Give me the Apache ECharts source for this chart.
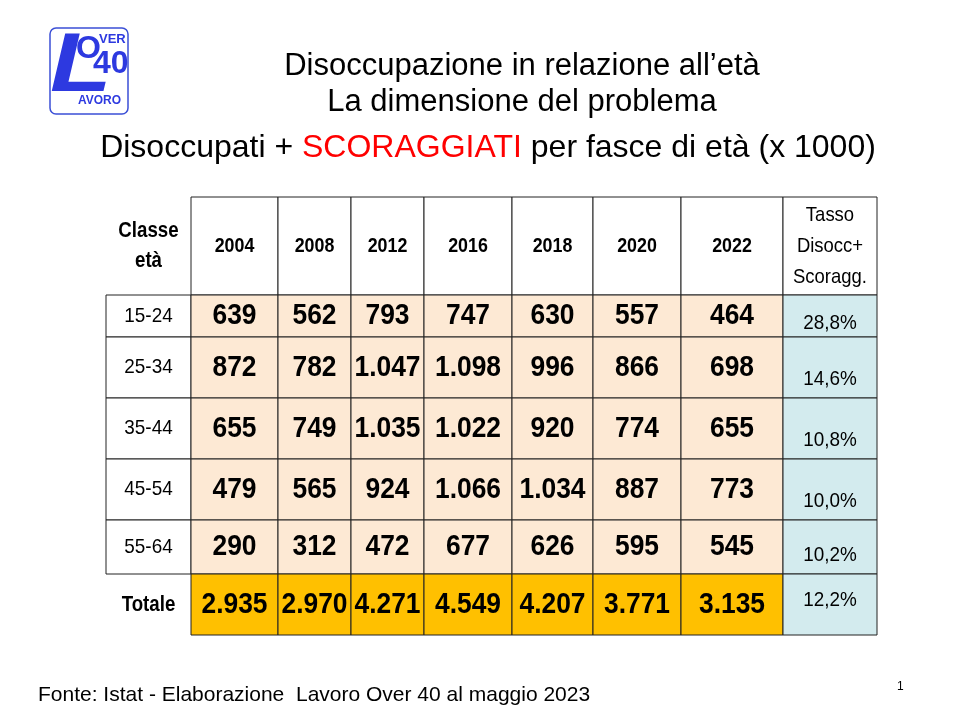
<!DOCTYPE html>
<html><head><meta charset="utf-8">
<script src="https://cdn.jsdelivr.net/npm/echarts@6/dist/echarts.min.js"></script>
<style>html,body{margin:0;padding:0;background:#fff}#c{width:960px;height:720px}</style>
</head><body><div id="c"></div>
<script>
const years = ['2004','2008','2012','2016','2018','2020','2022'];
const classes = ['15-24','25-34','35-44','45-54','55-64'];
const values = [
  ['639','562','793','747','630','557','464'],
  ['872','782','1.047','1.098','996','866','698'],
  ['655','749','1.035','1.022','920','774','655'],
  ['479','565','924','1.066','1.034','887','773'],
  ['290','312','472','677','626','595','545']
];
const totals = ['2.935','2.970','4.271','4.549','4.207','3.771','3.135'];
const rates = ['28,8%','14,6%','10,8%','10,0%','10,2%'];
const totalRate = '12,2%';

const colEdges = [106,191,278,351,424,512,593,681,783,877];
const rowEdges = [197,295,337,398,459,520,574,635];
const SANS = '"Liberation Sans",Arial,sans-serif';

const cells = [];
cells.push([0,0,'Classe\netà','hdrL']);
years.forEach((y,i)=>cells.push([i+1,0,y,'hdr']));
cells.push([8,0,'Tasso\nDisocc+\nScoragg.','hdrR']);
classes.forEach((c,r)=>{
  cells.push([0,r+1,c,'cls']);
  values[r].forEach((v,i)=>cells.push([i+1,r+1,v,'val']));
  cells.push([8,r+1,rates[r],r===0?'rate0':'rate']);
});
cells.push([0,6,'Totale','totL']);
totals.forEach((v,i)=>cells.push([i+1,6,v,'tot']));
cells.push([8,6,totalRate,'rateT']);

const chart = echarts.init(document.getElementById('c'));
chart.setOption({
  animation:false,
  grid:{left:0,right:0,top:0,bottom:0},
  xAxis:{type:'value',min:0,max:960,show:false},
  yAxis:{type:'value',min:0,max:720,inverse:true,show:false},
  graphic:[
    {type:'rect',shape:{x:50,y:28,width:78,height:86,r:6},style:{fill:'#fff',stroke:'#3b4fd6',lineWidth:1.5}},
    {type:'text',left:50,top:26,scaleX:1.2,style:{text:'L',font:'italic bold 84px '+SANS,fill:'#2d39e0'}},
    {type:'text',left:76,top:33,style:{text:'O',font:'bold 32px '+SANS,fill:'#2d39e0'}},
    {type:'text',left:99,top:33,style:{text:'VER',font:'bold 13px '+SANS,fill:'#2d39e0'}},
    {type:'text',left:93,top:48,style:{text:'40',font:'bold 32px '+SANS,fill:'#2d39e0'}},
    {type:'text',left:78,top:95,style:{text:'AVORO',font:'bold 12px '+SANS,fill:'#2d39e0'}},
    {type:'text',x:522,y:66,style:{text:'Disoccupazione in relazione all’età',font:'31px '+SANS,fill:'#000',align:'center',verticalAlign:'middle'}},
    {type:'text',x:522,y:102,style:{text:'La dimensione del problema',font:'31px '+SANS,fill:'#000',align:'center',verticalAlign:'middle'}},
    {type:'text',x:488,y:148,style:{text:'{a|Disoccupati + }{b|SCORAGGIATI}{a| per fasce di età (x 1000)}',align:'center',verticalAlign:'middle',
      rich:{a:{font:'32px '+SANS,fill:'#000'},b:{font:'32px '+SANS,fill:'#ff0000'}}}},
    {type:'text',left:38,top:685,style:{text:'Fonte: Istat - Elaborazione  Lavoro Over 40 al maggio 2023',font:'21px '+SANS,fill:'#000'}},
    {type:'text',left:897,top:681,style:{text:'1',font:'12px '+SANS,fill:'#000'}}
  ],
  series:[{
    type:'custom',
    data:cells,
    renderItem:function(params,api){
      const c=api.value(0), r=api.value(1), kind=cells[params.dataIndex][3], text=cells[params.dataIndex][2];
      const p0=api.coord([colEdges[c],rowEdges[r]]), p1=api.coord([colEdges[c+1],rowEdges[r+1]]);
      const w=p1[0]-p0[0], h=p1[1]-p0[1];
      let fill='#fff', font='bold 30px '+SANS, ty=p0[1]+h/2, sx=0.88;
      let noBorder=false, lh;
      if(kind==='hdrL'){noBorder=true;font='bold 22px '+SANS;lh=30;sx=0.85;}
      else if(kind==='hdr'){font='bold 21px '+SANS;sx=0.85;}
      else if(kind==='hdrR'){font='21px '+SANS;lh=31;sx=0.88;}
      else if(kind==='cls'){font='21px '+SANS;sx=0.9;}
      else if(kind==='val'){fill='#fde9d4';}
      else if(kind==='tot'){fill='#ffc000';}
      else if(kind==='totL'){noBorder=true;font='bold 22px '+SANS;sx=0.85;}
      else if(kind==='rate0'){fill='#d3ebee';font='21px '+SANS;ty=p1[1]-14;sx=0.9;}
      else if(kind==='rate'){fill='#d3ebee';font='21px '+SANS;ty=p1[1]-19;sx=0.9;}
      else if(kind==='rateT'){fill='#d3ebee';font='21px '+SANS;ty=p0[1]+h/2-4;sx=0.9;}
      const children=[];
      if(!noBorder) children.push({type:'rect',shape:{x:p0[0],y:p0[1],width:w,height:h},style:{fill:fill,stroke:'#222',lineWidth:1}});
      const ts={text:text,font:font,fill:'#000',align:'center',verticalAlign:'middle'};
      if(lh) ts.lineHeight=lh;
      children.push({type:'text',x:p0[0]+w/2,y:ty,scaleX:sx,style:ts});
      return {type:'group',children:children};
    }
  }]
});
</script></body></html>
